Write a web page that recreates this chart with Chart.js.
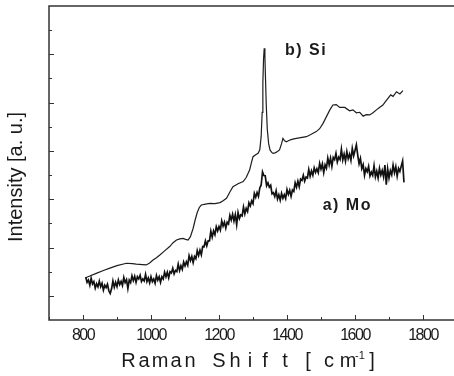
<!DOCTYPE html>
<html>
<head>
<meta charset="utf-8">
<script src="https://cdn.jsdelivr.net/npm/chart.js@4.4.1/dist/chart.umd.min.js"></script>
<style>
  html, body { margin: 0; padding: 0; background: #fff; overflow: hidden; }
  #wrap { position: relative; width: 460px; height: 376px; }
</style>
</head>
<body>
<div id="wrap"><canvas id="myChart"></canvas></div>
<script>
/* Raman spectra */
const siShift = [808, 820, 839, 860, 879, 900, 928, 945, 957, 975, 986, 996, 1006, 1016, 1026, 1040, 1055, 1065, 1075, 1085,
    1094, 1102, 1109, 1116, 1124, 1130, 1136, 1142, 1148, 1160, 1173, 1188, 1203, 1212, 1222, 1232, 1241, 1256, 1271, 1280,
    1290, 1296, 1300, 1308, 1315, 1320, 1324, 1327, 1329, 1331, 1333, 1335, 1337, 1339, 1342, 1346, 1350, 1355, 1359, 1365,
    1372, 1378, 1384, 1388, 1393, 1398, 1410, 1420, 1428, 1440, 1457, 1470, 1486, 1496, 1506, 1516, 1526, 1535, 1545, 1555,
    1570, 1584, 1594, 1604, 1614, 1624, 1633, 1643, 1653, 1663, 1672, 1682, 1690, 1697, 1705, 1712, 1722, 1732, 1741];
const siIntensity = [1.75, 1.82, 1.93, 2.05, 2.15, 2.25, 2.35, 2.33, 2.31, 2.29, 2.28, 2.36, 2.48, 2.58, 2.69, 2.86, 3.04, 3.20, 3.31, 3.36,
    3.38, 3.34, 3.31, 3.45, 3.80, 4.15, 4.45, 4.66, 4.76, 4.80, 4.83, 4.82, 4.86, 4.94, 5.04, 5.30, 5.52, 5.64, 5.73, 5.90,
    6.21, 6.55, 6.76, 6.84, 6.90, 7.05, 7.60, 8.60, 9.80, 10.80, 11.25, 10.90, 9.90, 8.90, 7.90, 7.30, 7.04, 6.94, 6.90, 6.92,
    6.98, 7.04, 7.30, 7.52, 7.42, 7.38, 7.46, 7.50, 7.52, 7.55, 7.59, 7.68, 7.80, 7.92, 8.14, 8.42, 8.70, 8.90, 8.92, 8.80,
    8.80, 8.66, 8.70, 8.58, 8.60, 8.44, 8.50, 8.49, 8.58, 8.70, 8.80, 8.90, 9.05, 9.18, 9.32, 9.26, 9.45, 9.36, 9.50];

const moShift = [808, 812, 816, 820, 824, 828, 832, 836, 840, 844, 848, 852, 856, 860, 864, 868, 872, 876, 880, 884,
    888, 892, 896, 900, 904, 908, 912, 916, 920, 924, 928, 932, 936, 940, 944, 948, 952, 956, 960, 964,
    968, 972, 976, 980, 984, 988, 992, 996, 1000, 1004, 1008, 1012, 1016, 1020, 1024, 1028, 1032, 1036, 1040, 1044,
    1048, 1052, 1056, 1060, 1064, 1068, 1072, 1076, 1080, 1084, 1088, 1092, 1096,
    1100, 1104, 1108, 1112, 1116, 1120, 1124, 1128, 1132, 1136, 1140, 1144, 1148, 1152, 1156, 1160, 1164, 1168, 1172, 1176,
    1180, 1184, 1188, 1192, 1196, 1200, 1204, 1208, 1212, 1216, 1220, 1224, 1228, 1232, 1236, 1240, 1244, 1248, 1252, 1256,
    1260, 1264, 1268, 1272, 1276, 1280, 1284, 1288, 1292, 1296, 1300, 1304, 1308, 1312, 1316, 1320, 1324, 1328, 1332, 1336,
    1340, 1344, 1348, 1352, 1356, 1360, 1364, 1368, 1372, 1376, 1380, 1384, 1388, 1392, 1396, 1400, 1404, 1408, 1412, 1416,
    1420, 1424, 1428, 1432, 1436, 1440, 1444, 1448, 1452, 1456, 1460, 1464, 1468, 1472, 1476, 1480, 1484, 1488, 1492, 1496,
    1500, 1504, 1508, 1512, 1516, 1520, 1524, 1528, 1532, 1536, 1540, 1544, 1548, 1552, 1556, 1560, 1564, 1568, 1572, 1576,
    1580, 1584, 1588, 1592, 1596, 1600, 1604, 1608, 1612, 1616, 1620, 1624, 1628, 1632, 1636, 1640, 1644, 1648, 1652, 1656,
    1660, 1664, 1668, 1672, 1676, 1680, 1684, 1688, 1692, 1696, 1700, 1704, 1708, 1712, 1716, 1720, 1724, 1728, 1732, 1736,
    1740, 1744];
const moIntensity = [1.78, 1.56, 1.65, 1.44, 1.73, 1.49, 1.59, 1.32, 1.50, 1.37, 1.61, 1.38, 1.52, 1.24, 1.44, 1.34, 1.48, 1.21, 1.10, 1.29,
    1.62, 1.36, 1.56, 1.38, 1.66, 1.47, 1.60, 1.43, 1.76, 1.55, 1.67, 1.30, 1.65, 1.55, 1.83, 1.63, 1.81, 1.56, 1.79, 1.70,
    1.85, 1.59, 1.70, 1.62, 1.89, 1.59, 1.74, 1.54, 1.79, 1.59, 1.70, 1.52, 1.84, 1.65, 1.79, 1.56, 1.79, 1.70, 1.98, 1.79,
    1.98, 1.75, 2.00, 1.95, 2.14, 1.91, 2.05, 2.00, 2.31, 2.05, 2.25, 2.10, 2.40,
    2.24, 2.41, 2.27, 2.66, 2.46, 2.63, 2.38, 2.63, 2.54, 2.87, 2.67, 2.89, 2.70, 3.04, 3.03, 3.27, 3.07, 3.28, 3.28, 3.68,
    3.43, 3.69, 3.53, 3.86, 3.69, 3.87, 3.72, 4.10, 3.89, 4.05, 3.80, 4.05, 3.98, 4.33, 4.14, 4.38, 4.10, 4.36, 3.95, 4.45,
    4.20, 4.35, 4.31, 4.67, 4.39, 4.62, 4.49, 4.85, 4.72, 4.93, 4.82, 5.24, 5.08, 5.28, 5.12, 5.47, 5.59, 6.13, 5.98, 5.97,
    5.56, 5.68, 5.50, 5.58, 5.22, 5.27, 5.11, 5.35, 5.01, 5.18, 4.96, 5.24, 5.04, 5.19, 5.03, 5.40, 5.20, 5.37, 5.12, 5.38,
    5.32, 5.68, 5.50, 5.75, 5.52, 5.83, 5.78, 5.99, 5.75, 5.92, 5.88, 6.23, 5.95, 6.17, 5.99, 6.30, 6.11, 6.26, 6.10, 6.48,
    6.25, 6.46, 6.10, 6.42, 6.28, 6.70, 6.42, 6.70, 6.36, 6.73, 6.64, 6.90, 6.54, 6.74, 6.64, 7.07, 6.63, 6.87, 6.58, 6.97,
    6.68, 6.87, 6.61, 7.10, 6.80, 7.02, 7.25, 6.83, 6.47, 6.69, 6.27, 6.43, 5.99, 6.27, 6.14, 6.36, 5.96, 6.12, 5.99, 6.39,
    5.93, 6.16, 5.88, 6.28, 6.00, 6.19, 5.93, 6.41, 5.60, 6.26, 5.88, 6.18, 6.01, 6.41, 6.10, 6.35, 5.96, 6.28, 6.15, 6.37,
    6.58, 5.70];

const xTickValues = [800, 1000, 1200, 1400, 1600, 1800];
const xTickLabels = ["800", "1000", "1200", "1400", "1600", "1800"];

const ink = "#1a1a1a";
const sans = "'Liberation Sans', Arial, sans-serif";

function pts(xs, ys) {
    return xs.map((x, i) => ({ x: x, y: ys[i] }));
}

// widely spaced axis title, one glyph per slot
const titleGlyphs = [
    ["R", 128.5], ["a", 144], ["m", 160], ["a", 176], ["n", 190],
    ["S", 219], ["h", 235], ["i", 250], ["f", 265], ["t", 285],
    ["[", 308], ["c", 329], ["m", 348], ["]", 372],
];

// frame, inward ticks, labels and titles
const decor = {
    id: "decor",
    afterDraw(chart) {
        const ctx = chart.ctx;
        const a = chart.chartArea;
        const xs = chart.scales.x;
        const ys = chart.scales.y;
        ctx.save();
        ctx.strokeStyle = "#333";
        ctx.lineWidth = 1.5;
        ctx.strokeRect(a.left, a.top, a.right - a.left, a.bottom - a.top);

        ctx.lineWidth = 1;
        ctx.beginPath();
        for (let v = 700; v <= 1900; v += 100) {
            const px = Math.round(xs.getPixelForValue(v)) + 0.5;
            const len = v % 200 === 0 ? 5 : 3;
            ctx.moveTo(px, a.bottom);
            ctx.lineTo(px, a.bottom - len);
        }
        for (let v = 1; v <= 12; v++) {
            const py = Math.round(ys.getPixelForValue(v)) + 0.5;
            const len = v % 2 === 1 ? 5 : 3;
            ctx.moveTo(a.left, py);
            ctx.lineTo(a.left + len, py);
        }
        ctx.stroke();

        ctx.fillStyle = ink;
        ctx.textAlign = "center";
        ctx.textBaseline = "alphabetic";
        ctx.font = "16px " + sans;
        ctx.letterSpacing = "-1.5px";
        xTickValues.forEach((v, i) => {
            ctx.fillText(xTickLabels[i], xs.getPixelForValue(v), 340);
        });

        // x title
        ctx.letterSpacing = "0px";
        ctx.font = "20px " + sans;
        titleGlyphs.forEach((g) => ctx.fillText(g[0], g[1], 367));
        ctx.font = "11px " + sans;
        ctx.fillText("-1", 360, 359);

        // y title
        ctx.save();
        ctx.translate(22, 177);
        ctx.rotate(-Math.PI / 2);
        ctx.font = "20px " + sans;
        ctx.fillText("Intensity [a. u.]", 0, 0);
        ctx.restore();

        // curve labels
        ctx.font = "bold 16px " + sans;
        ctx.letterSpacing = "1.5px";
        ctx.textAlign = "left";
        ctx.fillText("b) Si", xs.getPixelForValue(1394), ys.getPixelForValue(10.97));
        ctx.fillText("a) Mo", xs.getPixelForValue(1505), ys.getPixelForValue(4.55));
        ctx.restore();
    },
};

const config = {
    type: "line",
    data: {
        datasets: [
            {
                label: "b) Si",
                data: pts(siShift, siIntensity),
                borderColor: "#1e1e1e",
                borderWidth: 1.2,
                pointRadius: 0,
                tension: 0,
            },
            {
                label: "a) Mo",
                data: pts(moShift, moIntensity),
                borderColor: "#111",
                borderWidth: 1.7,
                pointRadius: 0,
                tension: 0,
            },
        ],
    },
    options: {
        responsive: false,
        animation: false,
        layout: { padding: { left: 49, top: 6, right: 3, bottom: 56 } },
        plugins: {
            legend: { display: false },
            tooltip: { enabled: false },
        },
        scales: {
            x: { type: "linear", min: 700, max: 1900, display: false },
            y: { type: "linear", min: 0, max: 13, display: false },
        },
    },
    plugins: [decor],
};

const cv = document.getElementById("myChart");
cv.width = 460;
cv.height = 376;
const myChart = new Chart(cv, config);
</script>
</body>
</html>
